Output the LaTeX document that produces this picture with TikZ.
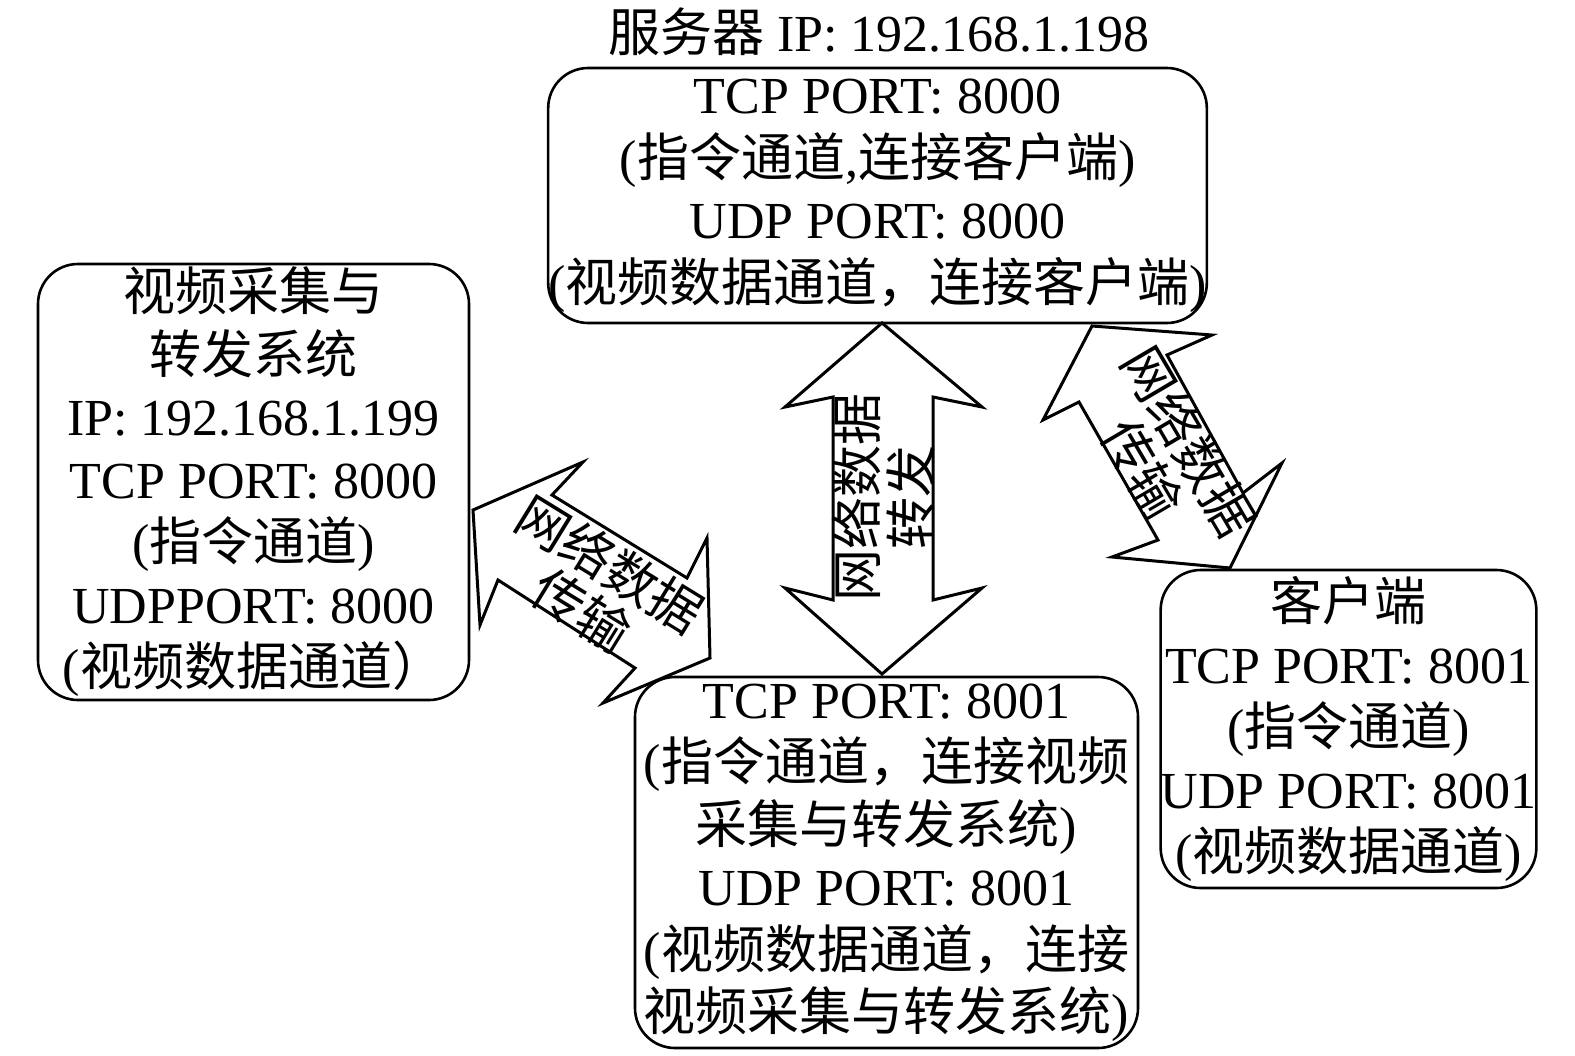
\documentclass[tikz,border=0pt]{standalone}
\usepackage{fontspec}
\setmainfont{Liberation Serif}
\newfontfamily\cjk{Noto Sans CJK SC}
\newcommand\zh[1]{{\cjk #1}}
\begin{document}
\begin{tikzpicture}[x=1bp,y=-1bp,
  box/.style={draw, line width=2.6bp, rounded corners=40bp, align=center, inner sep=0pt,
    font=\fontsize{52bp}{62.5bp}\selectfont},
  arr/.style={draw, line width=3bp, line join=miter, fill=white},
  arrtxt/.style={align=center, inner sep=0pt, font=\fontsize{52bp}{54bp}\selectfont\cjk}]
\useasboundingbox (0,0) rectangle (1575,1055);

% block arrows
\draw[arr] (882,323) -- (982,407) -- (933,397) -- (933,600) -- (982,588) -- (882,674)
  -- (785,588) -- (833,600) -- (833,397) -- (785,407) -- cycle;
\draw[arr] (473,510) -- (583,462) -- (552,495) -- (687,578) -- (707,538) -- (710,658)
  -- (603,703) -- (635,668) -- (498,580) -- (480,625) -- cycle;
\draw[arr] (1092,326) -- (1212,335) -- (1167,355) -- (1243,493) -- (1282,463) -- (1230,568)
  -- (1112,557) -- (1158,540) -- (1079,402) -- (1043,420) -- cycle;

\node[arrtxt, rotate=90] (tv) at (883,497) {网络数据\\转发};
\node[arrtxt, rotate=-31.6] (tl) at (596,587) {网络数据\\传输};
\node[arrtxt, rotate=-59.5] (tr) at (1166,455) {网络数据\\传输};

% title
\node[font=\fontsize{52bp}{62bp}\selectfont, inner sep=0pt] (title) at (879,32)
  {\zh{服务器} IP: 192.168.1.198};

% boxes
\node[box, minimum width=649bp, minimum height=255bp] (srv) at (877.5,195.5)
  {TCP PORT: 8000\\(\zh{指令通道},\zh{连接客户端})\\UDP PORT: 8000\\(\zh{视频数据通道，连接客户端})};
\node[box, minimum width=431bp, minimum height=436bp] (src) at (253.5,482)
  {\zh{视频采集与}\\\zh{转发系统}\\IP: 192.168.1.199\\TCP PORT: 8000\\(\zh{指令通道})\\UDPPORT: 8000\\(\zh{视频数据通道）}};
\node[box, minimum width=503bp, minimum height=371bp] (fwd) at (886.5,862.5)
  {TCP PORT: 8001\\(\zh{指令通道，连接视频}\\\zh{采集与转发系统})\\UDP PORT: 8001\\(\zh{视频数据通道，连接}\\\zh{视频采集与转发系统})};
\node[box, minimum width=373bp, minimum height=318bp] (cli) at (1348.5,729)
  {\zh{客户端}\\TCP PORT: 8001\\(\zh{指令通道})\\UDP PORT: 8001\\(\zh{视频数据通道})};
\end{tikzpicture}
\end{document}
